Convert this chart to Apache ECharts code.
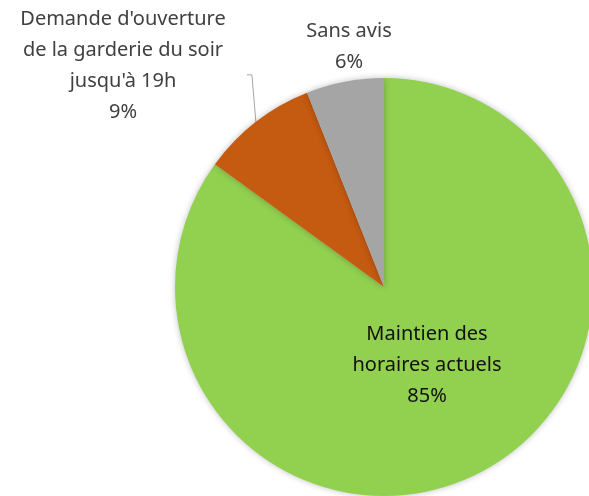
<!DOCTYPE html>
<html>
<head>
<meta charset="utf-8">
<script src="https://cdn.jsdelivr.net/npm/echarts@6/dist/echarts.min.js"></script>
<style>
  html, body { margin: 0; padding: 0; background: #fff; }
  #chart { width: 589px; height: 496px; }
</style>
</head>
<body>
<div id="chart"></div>
<script>
const categories = [
    'Maintien des\nhoraires actuels',
    "Demande d'ouverture\nde la garderie du soir\njusqu'à 19h",
    'Sans avis'
];
const values = [85, 9, 6];
const colors = ['#92D050', '#C55A11', '#A5A5A5'];

// label centres
const labelSpots = [[427, 365], [123, 66], [349, 47]];

const chart = echarts.init(document.getElementById('chart'));

const data = categories.map((name, i) => ({
    name: name,
    value: values[i],
    itemStyle: {color: colors[i]},
    label: i === 0 ? {color: '#111'} : {color: '#404040'},
    labelLine: {show: i === 1}
}));

chart.setOption({
    animation: false,
    series: [{
        type: 'pie',
        center: [384, 287],
        radius: 209,
        startAngle: 90,
        clockwise: true,
        data: data,
        itemStyle: {
            shadowBlur: 6,
            shadowColor: 'rgba(0,0,0,0.25)'
        },
        label: {
            show: true,
            position: 'outside',
            formatter: p => p.name + '\n' + p.value + '%',
            fontFamily: 'Noto Sans',
            fontSize: 20,
            lineHeight: 31,
            align: 'center',
            overflow: 'none',
            width: 300
        },
        labelLine: {
            length: 45,
            length2: 5,
            lineStyle: {color: '#a6a6a6', width: 1}
        },
        labelLayout: function (params) {
            const s = labelSpots[params.dataIndex];
            const out = {x: s[0], y: s[1], align: 'center', verticalAlign: 'middle'};
            if (params.dataIndex === 1 && params.labelLinePoints) {
                // leader goes almost straight up from the slice edge, then a short tick left
                const p0 = params.labelLinePoints[0];
                out.labelLinePoints = [
                    p0,
                    [p0[0] - 4, p0[1] - 47],
                    [p0[0] - 9, p0[1] - 47]
                ];
            }
            return out;
        }
    }]
});
</script>
</body>
</html>
